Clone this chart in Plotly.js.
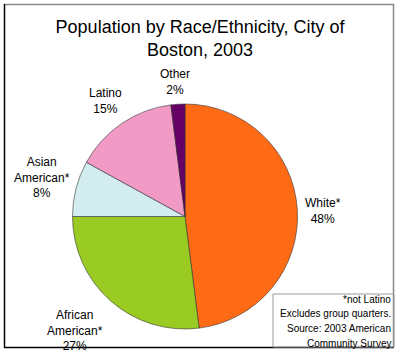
<!DOCTYPE html>
<html>
<head>
<meta charset="utf-8">
<script src="https://cdn.plot.ly/plotly-3.0.1.min.js"></script>
<style>html,body{margin:0;padding:0;background:#fff;}#chart{width:400px;height:353px;}</style>
</head>
<body>
<div id="chart"></div>
<script>
var categories = ["White*", "African American*", "Asian American*", "Latino", "Other"];
var labelText = ["White*", "African<br>American*", "Asian<br>American*", "Latino", "Other"];
var values = [48, 27, 8, 15, 2];
var colors = ["#FF6A14", "#9ACB22", "#D3ECEF", "#F29AC6", "#660066"];
var noteLines = ["*not Latino", "Excludes group quarters.", "Source: 2003 American", "Community Survey"];

var W = 400, H = 353;
function px(x) { return x / W; }
function py(y) { return 1 - y / H; }

// label centre positions (pixels)
var labelPos = [[323, 211], [75, 330], [42, 177], [105, 101], [175, 82]];

var annotations = [];
for (var i = 0; i < categories.length; i++) {
  annotations.push({
    x: px(labelPos[i][0]), y: py(labelPos[i][1]), xref: "paper", yref: "paper",
    xanchor: "center", yanchor: "middle", showarrow: false, align: "center",
    text: labelText[i] + "<br>" + values[i] + "%",
    font: {family: "Liberation Sans, Arial, sans-serif", size: 12, color: "#000"}
  });
}
for (var j = 0; j < noteLines.length; j++) {
  annotations.push({
    x: px(393), y: py(299 + j * 14.7), xref: "paper", yref: "paper",
    xanchor: "right", yanchor: "middle", showarrow: false, align: "right",
    text: noteLines[j],
    font: {family: "Liberation Sans, Arial, sans-serif", size: 10, color: "#000"}
  });
}

var cx = 185, cy = 216.5, r = 112.5;
var trace = {
  type: "pie",
  labels: categories,
  values: values,
  sort: false,
  direction: "clockwise",
  rotation: 0,
  textinfo: "none",
  hoverinfo: "label+percent",
  marker: {colors: colors, line: {color: "#333333", width: 0.6}},
  domain: {x: [px(cx - r), px(cx + r)], y: [py(cy + r), py(cy - r)]},
  showlegend: false
};

var layout = {
  width: W, height: H,
  margin: {l: 0, r: 0, t: 0, b: 0},
  paper_bgcolor: "#fff",
  showlegend: false,
  title: {
    text: "Population by Race/Ethnicity, City of<br>Boston, 2003",
    x: 0.5, xanchor: "center", y: py(33), yanchor: "middle", yref: "paper",
    font: {family: "Liberation Sans, Arial, sans-serif", size: 18, color: "#000"}
  },
  annotations: annotations,
  shapes: [
    {type: "line", xref: "paper", yref: "paper", x0: px(4), x1: px(394), y0: py(4.5), y1: py(4.5), line: {color: "#8a8a8a", width: 1.5}},
    {type: "line", xref: "paper", yref: "paper", x0: px(393.5), x1: px(393.5), y0: py(4), y1: py(347), line: {color: "#8a8a8a", width: 1.5}},
    {type: "line", xref: "paper", yref: "paper", x0: px(4.5), x1: px(4.5), y0: py(4), y1: py(347.5), line: {color: "#000", width: 1.5}},
    {type: "line", xref: "paper", yref: "paper", x0: px(4), x1: px(394), y0: py(347.5), y1: py(347.5), line: {color: "#000", width: 1.5}},
    {type: "rect", xref: "paper", yref: "paper", x0: px(273), x1: px(394), y0: py(294), y1: py(347), line: {color: "#9a9a9a", width: 1}}
  ]
};

Plotly.newPlot("chart", [trace], layout, {displayModeBar: false, staticPlot: true});
</script>
</body>
</html>
